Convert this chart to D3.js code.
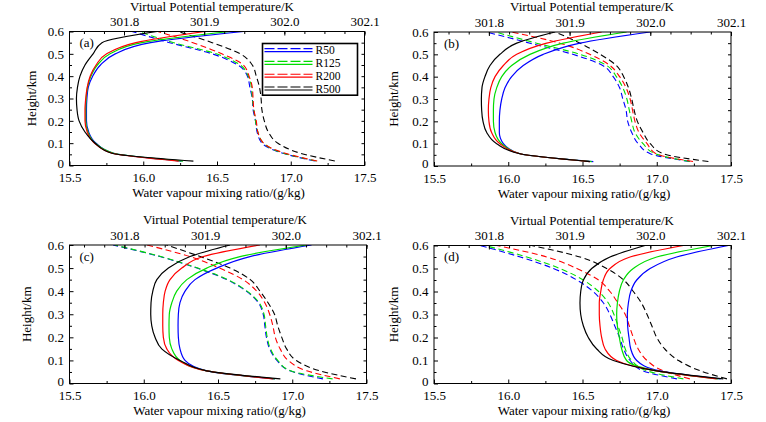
<!DOCTYPE html>
<html>
<head>
<meta charset="utf-8">
<script src="https://cdn.jsdelivr.net/npm/d3@7"></script>
<style>
  body { margin: 0; background: #fff; }
  text { font-family: "Liberation Serif", "Times New Roman", serif; }
</style>
</head>
<body>
<div id="chart"></div>
<script>
// heights of the model levels (km), bottom to top
const heights = [0.02, 0.055, 0.1, 0.15, 0.2, 0.25, 0.3, 0.35, 0.4, 0.45, 0.5, 0.55, 0.6];
const runs = ["R50", "R125", "R200", "R500"];
const panelNames = ["(a)", "(b)", "(c)", "(d)"];

// tick labels
const qvTicks = [15.5, 16.0, 16.5, 17.0, 17.5];
const thetaTicks = [301.8, 301.9, 302.0, 302.1];
const heightTicks = [0, 0.1, 0.2, 0.3, 0.4, 0.5, 0.6];

// water vapour mixing ratio (g/kg), one row per run: R50, R125, R200, R500
const qvA = [
  [16.26, 15.80, 15.68, 15.63, 15.615, 15.615, 15.618, 15.627, 15.657, 15.71, 15.81, 16.05, 16.68],
  [16.27, 15.80, 15.675, 15.625, 15.61, 15.61, 15.613, 15.622, 15.645, 15.689, 15.775, 15.99, 16.59],
  [16.24, 15.79, 15.67, 15.62, 15.605, 15.605, 15.61, 15.62, 15.64, 15.68, 15.752, 15.95, 16.42],
  [16.34, 15.786, 15.673, 15.605, 15.565, 15.551, 15.547, 15.554, 15.571, 15.605, 15.66, 15.72, 16.094]
];
const qvB = [
  [16.573, 16.079, 15.967, 15.94, 15.94, 15.944, 15.956, 15.978, 16.023, 16.101, 16.236, 16.483, 16.955],
  [16.562, 16.079, 15.956, 15.911, 15.90, 15.90, 15.904, 15.922, 15.956, 16.023, 16.146, 16.371, 16.797],
  [16.55, 16.079, 15.944, 15.888, 15.870, 15.866, 15.870, 15.882, 15.911, 15.967, 16.057, 16.259, 16.629],
  [16.55, 16.079, 15.922, 15.855, 15.83, 15.821, 15.819, 15.823, 15.843, 15.877, 15.944, 16.057, 16.315]
];
const qvC = [
  [16.883, 16.424, 16.278, 16.244, 16.233, 16.231, 16.233, 16.244, 16.278, 16.345, 16.491, 16.715, 17.13],
  [16.883, 16.424, 16.244, 16.189, 16.172, 16.17, 16.172, 16.189, 16.222, 16.29, 16.424, 16.648, 17.097],
  [16.872, 16.424, 16.233, 16.155, 16.132, 16.128, 16.128, 16.132, 16.144, 16.177, 16.256, 16.401, 16.782],
  [16.92, 16.424, 16.244, 16.121, 16.076, 16.054, 16.047, 16.049, 16.061, 16.088, 16.166, 16.312, 16.581]
];
const qvD = [
  [17.43, 17.022, 16.865, 16.825, 16.813, 16.804, 16.802, 16.809, 16.825, 16.865, 16.955, 17.134, 17.482],
  [17.415, 17.0, 16.797, 16.764, 16.748, 16.735, 16.73, 16.735, 16.748, 16.775, 16.842, 17.0, 17.381],
  [17.404, 17.0, 16.73, 16.652, 16.629, 16.618, 16.613, 16.613, 16.623, 16.64, 16.685, 16.82, 17.179],
  [17.448, 17.0, 16.708, 16.596, 16.539, 16.506, 16.488, 16.483, 16.488, 16.506, 16.562, 16.685, 16.921]
];

// virtual potential temperature (K)
const thA = [
  [302.038, 301.998, 301.972, 301.966, 301.964, 301.961, 301.960, 301.957, 301.954, 301.942, 301.910, 301.857, 301.810],
  [302.040, 301.999, 301.974, 301.967, 301.964, 301.962, 301.960, 301.959, 301.955, 301.945, 301.915, 301.862, 301.818],
  [302.041, 302.001, 301.974, 301.967, 301.965, 301.962, 301.961, 301.960, 301.956, 301.949, 301.922, 301.886, 301.842],
  [302.063, 302.020, 301.992, 301.980, 301.975, 301.972, 301.971, 301.969, 301.965, 301.960, 301.945, 301.910, 301.867]
];
const thB = [
  [302.049, 302.000, 301.985, 301.977, 301.972, 301.970, 301.966, 301.962, 301.954, 301.941, 301.904, 301.851, 301.797],
  [302.049, 302.006, 301.991, 301.981, 301.977, 301.974, 301.971, 301.966, 301.958, 301.946, 301.913, 301.859, 301.808],
  [302.053, 302.007, 301.996, 301.986, 301.981, 301.978, 301.975, 301.970, 301.962, 301.950, 301.925, 301.888, 301.828],
  [302.072, 302.016, 302.000, 301.991, 301.984, 301.980, 301.977, 301.973, 301.967, 301.958, 301.938, 301.913, 301.882]
];
const thC = [
  [302.046, 302.005, 301.989, 301.980, 301.976, 301.974, 301.972, 301.966, 301.951, 301.927, 301.890, 301.844, 301.786],
  [302.058, 302.006, 301.990, 301.981, 301.977, 301.975, 301.973, 301.967, 301.952, 301.928, 301.891, 301.845, 301.788],
  [302.067, 302.026, 302.003, 301.993, 301.987, 301.984, 301.980, 301.974, 301.964, 301.947, 301.918, 301.881, 301.828],
  [302.087, 302.042, 302.013, 302.001, 301.995, 301.990, 301.986, 301.978, 301.968, 301.956, 301.931, 301.894, 301.852]
];
const thD = [
  [302.033, 301.991, 301.975, 301.967, 301.962, 301.956, 301.950, 301.942, 301.929, 301.909, 301.880, 301.839, 301.789],
  [302.041, 301.996, 301.977, 301.969, 301.965, 301.960, 301.955, 301.948, 301.936, 301.917, 301.888, 301.847, 301.795],
  [302.049, 302.016, 301.996, 301.985, 301.979, 301.974, 301.969, 301.960, 301.950, 301.936, 301.909, 301.872, 301.810],
  [302.095, 302.062, 302.035, 302.018, 302.008, 302.002, 301.996, 301.989, 301.979, 301.967, 301.946, 301.913, 301.853]
];

const colors = ["#0000ff", "#00dd00", "#ff0000", "#000000"];

//size
const width = 766;
const height = 422;

// panel boxes in the page
const panels = [
  { qv: qvA, th: thA, left: 69.5, right: 364.5, top: 31.5, bottom: 165.5, titleX: 212, ylabX: 36 },
  { qv: qvB, th: thB, left: 434, right: 731, top: 32, bottom: 166, titleX: 592, ylabX: 398 },
  { qv: qvC, th: thC, left: 69.5, right: 366.5, top: 245, bottom: 383.5, titleX: 225, ylabX: 31 },
  { qv: qvD, th: thD, left: 434, right: 731, top: 245.5, bottom: 383.5, titleX: 592, ylabX: 398 }
];

const svg = d3
  .select("#chart")
  .append("svg")
  .attr("width", width)
  .attr("height", height);

const fmt1 = d3.format(".1f");

panels.forEach((p, k) => {
  const xScale = d3.scaleLinear().domain([15.5, 17.5]).range([p.left, p.right]);
  const tScale = d3.scaleLinear().domain([301.732, 302.1]).range([p.left, p.right]);
  const yScale = d3.scaleLinear().domain([0, 0.6]).range([p.bottom, p.top]);

  const g = svg.append("g");

  g.append("clipPath")
    .attr("id", "clip" + k)
    .append("rect")
    .attr("x", p.left)
    .attr("y", p.top)
    .attr("width", p.right - p.left)
    .attr("height", p.bottom - p.top);

  const lines = g.append("g").attr("clip-path", `url(#clip${k})`);

  // dashed = virtual potential temperature (top axis)
  p.th.forEach((vals, r) => {
    const line = d3
      .line()
      .x((d) => tScale(d[0]))
      .y((d) => yScale(d[1]))
      .curve(d3.curveMonotoneY);
    lines
      .append("path")
      .datum(vals.map((v, i) => [v, heights[i]]))
      .attr("fill", "none")
      .attr("stroke", colors[r])
      .attr("stroke-width", 1.1)
      .attr("stroke-dasharray", "6,3.5")
      .attr("d", line);
  });

  // solid = water vapour mixing ratio (bottom axis)
  p.qv.forEach((vals, r) => {
    const line = d3
      .line()
      .x((d) => xScale(d[0]))
      .y((d) => yScale(d[1]))
      .curve(d3.curveMonotoneY);
    lines
      .append("path")
      .datum(vals.map((v, i) => [v, heights[i]]))
      .attr("fill", "none")
      .attr("stroke", colors[r])
      .attr("stroke-width", 1.2)
      .attr("d", line);
  });

  // axes, ticks point inward
  const styleAxis = (a) => {
    a.select(".domain").remove();
    a.selectAll("text")
      .attr("font-size", 13)
      .attr("fill", "#000")
      .style("font-family", '"Liberation Serif", "Times New Roman", serif');
    a.selectAll("line").attr("stroke", "#000");
  };

  g.append("g")
    .attr("transform", `translate(0,${p.bottom})`)
    .call(d3.axisBottom(xScale).tickValues(qvTicks).tickFormat(fmt1).tickSize(-4).tickSizeOuter(0).tickPadding(7.5))
    .call(styleAxis);
  g.append("g")
    .attr("transform", `translate(0,${p.bottom})`)
    .call(d3.axisBottom(xScale).tickValues(d3.range(15.75, 17.5, 0.5)).tickFormat("").tickSize(-2.5).tickSizeOuter(0))
    .call(styleAxis);

  g.append("g")
    .attr("transform", `translate(0,${p.top})`)
    .call(d3.axisTop(tScale).tickValues(thetaTicks).tickFormat(fmt1).tickSize(-4).tickSizeOuter(0).tickPadding(5.5))
    .call(styleAxis);
  g.append("g")
    .attr("transform", `translate(0,${p.top})`)
    .call(d3.axisTop(tScale).tickValues(d3.range(301.75, 302.1, 0.025)).tickFormat("").tickSize(-2.5).tickSizeOuter(0))
    .call(styleAxis);

  g.append("g")
    .attr("transform", `translate(${p.left},0)`)
    .call(d3.axisLeft(yScale).tickValues(heightTicks).tickFormat((d) => (d === 0 ? "0" : fmt1(d))).tickSize(-4).tickSizeOuter(0).tickPadding(5.5))
    .call(styleAxis)
    .call((a) => a.selectAll("text").filter((d) => d === 0).attr("dy", "0.12em"));
  g.append("g")
    .attr("transform", `translate(${p.left},0)`)
    .call(d3.axisLeft(yScale).tickValues(d3.range(0.05, 0.6, 0.1)).tickFormat("").tickSize(-2.5).tickSizeOuter(0))
    .call(styleAxis);

  g.append("g")
    .attr("transform", `translate(${p.right},0)`)
    .call(d3.axisRight(yScale).tickValues(d3.range(0.05, 0.6, 0.05)).tickFormat("").tickSize(-3).tickSizeOuter(0))
    .call(styleAxis);

  // frame
  g.append("rect")
    .attr("x", p.left)
    .attr("y", p.top)
    .attr("width", p.right - p.left)
    .attr("height", p.bottom - p.top)
    .attr("fill", "none")
    .attr("stroke", "#000")
    .attr("stroke-width", 1);

  // titles
  g.append("text")
    .attr("x", p.titleX)
    .attr("y", p.top - 21)
    .attr("text-anchor", "middle")
    .attr("font-size", 13)
    .text("Virtual Potential temperature/K");

  g.append("text")
    .attr("x", (p.left + p.right) / 2 + 1.5)
    .attr("y", p.bottom + 31.5)
    .attr("text-anchor", "middle")
    .attr("font-size", 13)
    .text("Water vapour mixing ratio/(g/kg)");

  g.append("text")
    .attr("transform", `translate(${p.ylabX},${(p.top + p.bottom) / 2}) rotate(-90)`)
    .attr("text-anchor", "middle")
    .attr("font-size", 13)
    .text("Height/km");

  g.append("text")
    .attr("x", p.left + 10)
    .attr("y", p.top + 15.5)
    .attr("font-size", 13)
    .text(panelNames[k]);

  // legend only in (a)
  if (k === 0) {
    const lx = p.right - 102;
    const ly = p.top + 12;
    const rowH = 12.8;
    const leg = g.append("g");
    leg.append("rect")
      .attr("x", lx)
      .attr("y", ly)
      .attr("width", 95)
      .attr("height", runs.length * rowH + 0.5)
      .attr("fill", "#fff")
      .attr("stroke", "#000")
      .attr("stroke-width", 1.6);
    runs.forEach((name, r) => {
      const cy = ly + 6.6 + r * rowH;
      leg.append("line")
        .attr("x1", lx + 2).attr("x2", lx + 50)
        .attr("y1", cy - 1.5).attr("y2", cy - 1.5)
        .attr("stroke", colors[r])
        .attr("stroke-width", 1.1)
        .attr("stroke-dasharray", "10,3");
      leg.append("line")
        .attr("x1", lx + 2).attr("x2", lx + 50)
        .attr("y1", cy + 1.5).attr("y2", cy + 1.5)
        .attr("stroke", colors[r])
        .attr("stroke-width", 1.2);
      leg.append("text")
        .attr("x", lx + 53)
        .attr("y", cy + 4)
        .attr("font-size", 11.5)
        .text(name);
    });
  }
});
</script>
</body>
</html>
